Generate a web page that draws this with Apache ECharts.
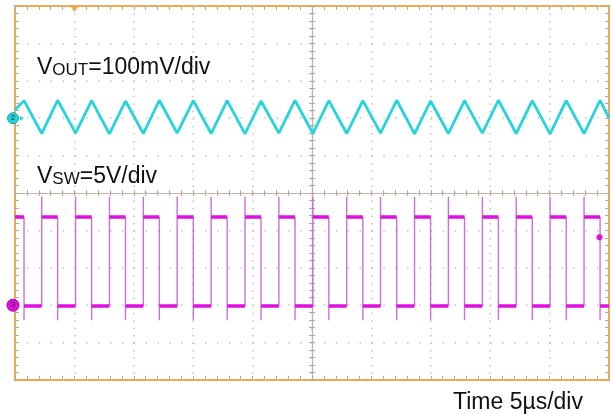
<!DOCTYPE html>
<html><head><meta charset="utf-8">
<script src="https://cdn.jsdelivr.net/npm/echarts@6/dist/echarts.min.js"></script>
<style>html,body{margin:0;padding:0;background:#fff}#c{width:612px;height:414px}</style>
</head><body><div id="c"></div>
<script>
// Time axis (µs), 5 µs/div, trigger-centred
const timeMin = -25, timeMax = 25, timeDiv = 5;
// Channel 2: VOUT ripple (mV), 100 mV/div
const voutMin = -700, voutMax = 300, voutDiv = 100;
// Channel 3: VSW (V), 5 V/div
const vswMin = -10, vswMax = 40, vswDiv = 5;

// Switch-node edge times (µs)
const riseTimes = [-22.75,-19.90,-17.05,-14.20,-11.35,-8.49,-5.64,-2.79,0.07,2.92,5.77,8.63,11.48,14.34,17.19,20.04,22.90];
const fallTimes = [-24.24,-21.41,-18.55,-15.70,-12.85,-9.99,-7.14,-4.29,-1.43,1.42,4.28,7.13,9.98,12.84,15.69,18.54,21.40,24.25];
// VOUT ripple vertices (mV): peaks at SW falling edges, troughs at rising edges
const voutPeaks   = [47,48,47,46,48,47,47,46,48,47,47,48,46,47,48,47,47,48];
const voutTroughs = [-41,-40,-42,-41,-40,-41,-42,-40,-41,-41,-40,-42,-41,-40,-41,-42,-41];
const voutStart = 22, voutEnd = 0;
// VSW levels (V)
const swHigh = 11.8, swLow = -0.1, swOvershoot = 14.5, swUndershoot = -2.0;
const trigTime = -20, trigLevel = 9.1, trigLevelTime = 24.2;

const teal = '#26d4db', magenta = '#e010e0', edgeColor = '#cc6fdb', orange = '#f5a645';
const dotC = '#c4c4c4', tickC = '#b0a99c', centerC = '#bdb6aa';
const font = '"Liberation Sans", Arial, sans-serif';

// Build VOUT polyline
const vout = [[timeMin, voutStart]];
for (let i = 0; i < fallTimes.length; i++) {
  vout.push([fallTimes[i], voutPeaks[i]]);
  if (i < riseTimes.length) vout.push([riseTimes[i], voutTroughs[i]]);
}
vout.push([timeMax, voutEnd]);

// Build VSW levels and edges
const levels = [[timeMin, swHigh], [fallTimes[0], swHigh], [fallTimes[0], null]];
const edges = [];
for (let i = 0; i < riseTimes.length; i++) {
  levels.push([fallTimes[i], swLow], [riseTimes[i], swLow], [riseTimes[i], null]);
  levels.push([riseTimes[i], swHigh], [fallTimes[i + 1], swHigh], [fallTimes[i + 1], null]);
}
levels.push([fallTimes[fallTimes.length - 1], swLow], [timeMax, swLow]);
for (let i = 0; i < fallTimes.length; i++) {
  edges.push([fallTimes[i], swHigh], [fallTimes[i], swUndershoot], [fallTimes[i], null]);
  if (i < riseTimes.length) edges.push([riseTimes[i], swLow], [riseTimes[i], swOvershoot], [riseTimes[i], null]);
}

function borderAxis(pos, min, max, interval, split, splitType) {
  return {
    type: 'value', min, max, interval, position: pos,
    axisLine: { show: false, onZero: false },
    axisLabel: { show: false },
    axisTick: { show: true, inside: true, length: 4, lineStyle: { color: tickC } },
    minorTick: { show: true, splitNumber: 5, length: 4, lineStyle: { color: tickC } },
    splitLine: { show: split, lineStyle: { color: dotC, width: 1.5, type: splitType } },
    minorSplitLine: { show: false }
  };
}
function centerAxis(min, max, interval, inside, zeroIdx) {
  return {
    type: 'value', min, max, interval,
    axisLine: { show: true, onZero: true, onZeroAxisIndex: zeroIdx, lineStyle: { color: centerC, width: 1.2 } },
    axisLabel: { show: false },
    axisTick: { show: true, inside, length: 3, lineStyle: { color: tickC } },
    minorTick: { show: true, splitNumber: 5, length: 3, lineStyle: { color: tickC } },
    splitLine: { show: false }
  };
}

const chart = echarts.init(document.getElementById('c'), null, { renderer: 'canvas' });
chart.setOption({
  animation: false,
  backgroundColor: '#fff',
  grid: { left: 15, top: 6, right: 3, bottom: 34, show: true, borderColor: orange, borderWidth: 2, backgroundColor: '#fff', containLabel: false },
  xAxis: [
    borderAxis('bottom', timeMin, timeMax, timeDiv, true, [1.5, 5.98]),
    borderAxis('top', timeMin, timeMax, timeDiv, false),
    Object.assign(centerAxis(timeMin, timeMax, timeDiv, true, 2), { position: 'bottom' }),
    Object.assign(centerAxis(timeMin, timeMax, timeDiv, false, 2), { position: 'bottom' })
  ],
  yAxis: [
    borderAxis('left', voutMin, voutMax, voutDiv, true, [1.5, 10.38]),
    borderAxis('right', vswMin, vswMax, vswDiv, false),
    { type: 'value', min: -5, max: 5, interval: 1, show: false, axisLine: { onZero: false } },
    Object.assign(centerAxis(-5, 5, 1, true, 0), { position: 'left' }),
    Object.assign(centerAxis(-5, 5, 1, false, 0), { position: 'left' })
  ],
  series: [
    {
      type: 'line', name: 'VOUT', xAxisIndex: 0, yAxisIndex: 0, data: vout,
      showSymbol: false, symbol: 'none', z: 5,
      lineStyle: { color: teal, width: 2.8 },
      markPoint: {
        silent: true,
        data: [
          { coord: [timeMin, 0], symbol: 'circle', symbolSize: 11, symbolOffset: [-2, 0],
            itemStyle: { color: teal, borderColor: '#14a9b0', borderWidth: 1 },
            label: { show: true, formatter: '2', color: '#222', fontSize: 8, fontFamily: font, position: 'inside' } },
          { coord: [timeMin, 0], symbol: 'path://M0,0 L10,5 L0,10 Z', symbolSize: [4, 5], symbolOffset: [7, 0],
            itemStyle: { color: teal }, label: { show: false } },
          { coord: [trigTime, voutMax], symbol: 'path://M0,0 L10,0 L5,8 Z', symbolSize: [8, 6], symbolOffset: [0, 3],
            itemStyle: { color: orange }, label: { show: false } }
        ]
      }
    },
    {
      type: 'line', name: 'VSW edges', xAxisIndex: 0, yAxisIndex: 1, data: edges,
      showSymbol: false, symbol: 'none', connectNulls: false, z: 3,
      lineStyle: { color: edgeColor, width: 1.4 }
    },
    {
      type: 'line', name: 'VSW', xAxisIndex: 0, yAxisIndex: 1, data: levels,
      showSymbol: false, symbol: 'none', connectNulls: false, z: 4,
      lineStyle: { color: magenta, width: 3.5 },
      markPoint: {
        silent: true,
        data: [
          { coord: [timeMin, 0], symbol: 'circle', symbolSize: 12, symbolOffset: [-2, 0],
            itemStyle: { color: magenta, borderColor: '#a000a0', borderWidth: 1 },
            label: { show: true, formatter: '3', color: '#222', fontSize: 8, fontFamily: font, position: 'inside' } },
          { coord: [trigLevelTime, trigLevel], symbol: 'circle', symbolSize: 6,
            itemStyle: { color: magenta }, label: { show: false } }
        ]
      }
    }
  ],
  graphic: [
    { type: 'text', left: 37, top: 56, z: 10, silent: true,
      style: { text: '{v|V}{s|OUT}{v|=100mV/div}',
        rich: { v: { fontSize: 23, fontFamily: font, fill: '#111', verticalAlign: 'bottom' },
                s: { fontSize: 17, fontFamily: font, fill: '#111', verticalAlign: 'bottom' } } } },
    { type: 'text', left: 37, top: 165, z: 10, silent: true,
      style: { text: '{v|V}{s|SW}{v|=5V/div}',
        rich: { v: { fontSize: 23, fontFamily: font, fill: '#111', verticalAlign: 'bottom' },
                s: { fontSize: 17, fontFamily: font, fill: '#111', verticalAlign: 'bottom' } } } },
    { type: 'text', left: 453, top: 391, z: 10, silent: true,
      style: { text: 'Time 5µs/div', fontSize: 23, fontFamily: font, fill: '#111' } }
  ]
});
</script></body></html>
